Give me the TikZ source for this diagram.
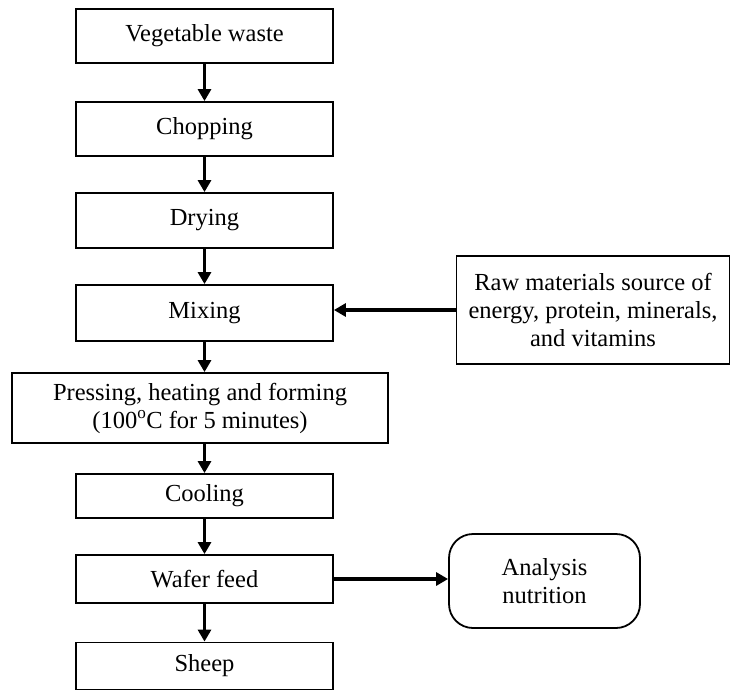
\documentclass[tikz,border=0pt]{standalone}
\usepackage{fontspec}
\setmainfont{Liberation Serif}
\usetikzlibrary{arrows.meta}
\begin{document}
\begin{tikzpicture}[x=1pt,y=-1pt,
  every node/.style={font=\fontsize{24.5}{28}\selectfont},
  procbox/.style={draw,line width=1.8pt,inner sep=0pt,minimum width=257pt,align=center},
  flow/.style={line width=3.4pt,-{Triangle[width=13pt,length=12pt]}}]
\useasboundingbox (0,0) rectangle (731,691);
\node[procbox,minimum height=54pt] (veg) at (204.5,36) {Vegetable waste};
\node[procbox,minimum height=54pt] (chop) at (204.5,129) {Chopping};
\node[procbox,minimum height=55pt] (dry) at (204.5,220.5) {Drying};
\node[procbox,minimum height=56pt] (mix) at (204.5,313) {Mixing};
\node[procbox,minimum width=376pt,minimum height=70pt] (press) at (200,408) {Pressing, heating and forming\\(100\textsuperscript{o}C for 5 minutes)};
\node[procbox,minimum height=44pt] (cool) at (204.5,496) {Cooling};
\node[procbox,minimum height=48pt] (wafer) at (204.5,579) {Wafer feed};
\node[procbox,minimum height=47pt] (sheep) at (204.5,666) {Sheep};
\node[procbox,minimum width=273pt,minimum height=108pt] (raw) at (593,310) {Raw materials source of\\energy, protein, minerals,\\and vitamins};
\node[procbox,minimum width=191pt,minimum height=94pt,rounded corners=24pt] (ana) at (544.5,581) {Analysis\\nutrition};
\draw[flow] (veg.south) -- (chop.north);
\draw[flow] (chop.south) -- (dry.north);
\draw[flow] (dry.south) -- (mix.north);
\draw[flow] (mix.south) -- (mix.south |- press.north);
\draw[flow] (mix.south |- press.south) -- (cool.north);
\draw[flow] (cool.south) -- (wafer.north);
\draw[flow] (wafer.south) -- (sheep.north);
\draw[flow] (raw.west) -- (raw.west -| mix.east);
\draw[flow] (wafer.east) -- (wafer.east -| ana.west);
\end{tikzpicture}
\end{document}
